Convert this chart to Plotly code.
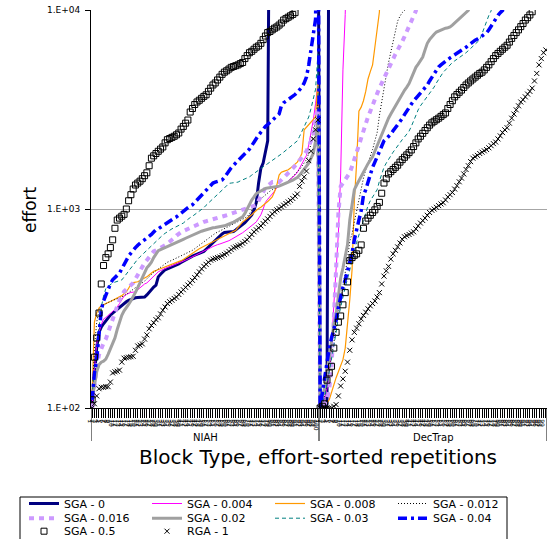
import plotly.graph_objects as go

# ---------------------------------------------------------------- data
OFF = 100000  # value above the 1.E+04 ceiling (clipped in the reference)

GROUPS = ["NIAH", "DecTrap"]
REP_LABELS = [str(r) for r in range(1, 101)]
Y_TICK_VALUES = [100, 1000, 10000]
Y_TICK_LABELS = ["1.E+02", "1.E+03", "1.E+04"]

SERIES_NAMES = ["SGA - 0", "SGA - 0.004", "SGA - 0.008", "SGA - 0.012", "SGA - 0.016",
                "SGA - 0.02", "SGA - 0.03", "SGA - 0.04", "SGA - 0.5", "RGA - 1"]

sga_0_niah = [105, 150, 200, 240, 255, 265, 275, 285, 293, 300,
              307, 314, 321, 328, 335, 342, 348, 352, 356, 358,
              359, 360, 360, 361, 370, 382, 393, 405, 414, 456,
              470, 485, 495, 500, 505, 510, 516, 522, 530, 538,
              547, 556, 565, 574, 580, 586, 592, 598, 605, 612,
              628, 645, 660, 676, 693, 712, 731, 750, 762, 764,
              766, 767, 770, 785, 800, 815, 830, 853, 880, 905,
              935, 990, 1080, 1350, 1600, 1700, 1950, 2200] + [OFF] * 22
sga_0_dectrap = [100, 100, 102, 105] + [OFF] * 96

sga_0004_niah = [100, 160, 210, 240, 262, 280, 285, 290, 298, 306,
                 314, 322, 335, 352, 365, 372, 378, 381, 382, 384,
                 393, 402, 412, 420, 425, 437, 449, 461, 473, 483,
                 490, 497, 503, 508, 513, 518, 523, 528, 533, 539,
                 546, 553, 560, 567, 575, 583, 591, 599, 607, 615,
                 622, 630, 639, 648, 657, 662, 667, 673, 679, 684,
                 693, 703, 713, 722, 735, 748, 760, 775, 790, 805,
                 824, 843, 862, 895, 935, 1000, 1080, 1120, 1150, 1190,
                 1230, 1280, 1295, 1310, 1330, 1345, 1380, 1410, 1445, 1480,
                 1530, 1600, 1680, 1760, 1860, 2100, 2400, 2800, 3400, 4200]
sga_0004_dectrap = [100, 104, 112, 125, 150, 200, 330, 480, 750, 1500,
                    5000, 9500] + [OFF] * 88

sga_0008_niah = [120, 270, 300, 318, 326, 331, 335, 339, 343, 348,
                 352, 356, 360, 367, 375, 383, 400, 418, 427, 429,
                 431, 437, 443, 450, 456, 466, 476, 486, 491, 496,
                 501, 506, 511, 515, 520, 525, 530, 535, 542, 550,
                 558, 568, 580, 592, 604, 616, 623, 632, 641, 650,
                 659, 668, 677, 686, 697, 706, 715, 724, 733, 742,
                 752, 762, 772, 782, 808, 836, 862, 878, 895, 913,
                 935, 960, 985, 1005, 1020, 1040, 1065, 1090, 1120, 1150,
                 1220, 1320, 1480, 1530, 1545, 1560, 1575, 1605, 1640, 1670,
                 1720, 1800, 1900, 2500, 2580, 2650, 2720, 2800, 2900, 4500]
sga_0008_dectrap = [100, 101, 103, 106, 110, 120, 132, 142, 152, 162,
                    175, 200, 260, 350, 495, 1100, 1700, 3100, 3250, 3500,
                    3900, 4500, 4900, 5300, 6500, 8000, 9800] + [OFF] * 73

sga_0012_niah = [100, 200, 270, 310, 326, 331, 335, 339, 343, 348,
                 351, 354, 357, 360, 366, 373, 380, 387, 393, 400,
                 408, 416, 424, 434, 446, 458, 471, 480, 490, 500,
                 510, 520, 530, 540, 546, 553, 560, 567, 573, 577,
                 585, 593, 601, 610, 620, 632, 645, 658, 672, 686,
                 700, 713, 726, 740, 755, 765, 775, 785, 795, 805,
                 815, 826, 837, 848, 860, 873, 887, 901, 915, 950,
                 995, 1030, 1060, 1100, 1125, 1150, 1180, 1210, 1230, 1250,
                 1270, 1290, 1305, 1320, 1335, 1350, 1380, 1415, 1450, 1490,
                 1530, 1580, 1640, 1700, 1770, 1900, 2100, 2400, 2800, 3500]
sga_0012_dectrap = [100, 105, 115, 130, 155, 180, 210, 250, 300, 350,
                    400, 470, 560, 690, 750, 860, 980, 1120, 1280, 1430,
                    1580, 1700, 1850, 1990, 2200, 2420, 2950, 3500, 4100, 4700,
                    5450, 6200, 7000, 7800, 8800, 9300, 9700, 9950] + [OFF] * 62

sga_0016_niah = [100, 130, 160, 185, 200, 212, 222, 240, 262, 287,
                 305, 325, 348, 370, 385, 395, 405, 415, 425, 445,
                 470, 495, 512, 535, 556, 575, 595, 612, 620, 628,
                 637, 645, 658, 671, 684, 697, 715, 735, 755, 765,
                 775, 785, 795, 805, 815, 826, 838, 850, 856, 862,
                 868, 874, 880, 884, 891, 898, 905, 912, 920, 929,
                 938, 947, 956, 965, 975, 984, 993, 1002, 1010, 1019,
                 1028, 1037, 1047, 1100, 1160, 1220, 1280, 1310, 1340, 1365,
                 1365, 1365, 1366, 1400, 1435, 1470, 1505, 1550, 1600, 1650,
                 1700, 1760, 1820, 1875, 1950, 2050, 2200, 2400, 2700, 3200]
sga_0016_dectrap = [100, 102, 105, 110, 125, 160, 260, 500, 950, 1300,
                    1350, 1400, 1460, 1520, 1640, 1780, 1930, 2080, 2300, 2500,
                    2750, 2900, 3100, 3350, 3550, 3800, 4050, 4300, 4550, 4850,
                    5100, 5400, 5700, 6000, 6300, 6550, 6950, 7350, 7800, 8300,
                    8800, 9300, 9900] + [OFF] * 57

sga_002_niah = [110, 130, 152, 165, 170, 172, 176, 186, 197, 210,
                225, 248, 272, 292, 308, 318, 332, 346, 361, 381,
                403, 425, 450, 478, 506, 522, 540, 570, 595, 617,
                625, 632, 640, 648, 655, 662, 669, 676, 685, 695,
                704, 713, 722, 730, 739, 748, 757, 766, 773, 780,
                787, 794, 800, 805, 807, 810, 812, 815, 823, 831,
                839, 847, 860, 872, 886, 900, 914, 950, 1000, 1060,
                1110, 1150, 1195, 1215, 1235, 1255, 1270, 1275, 1280, 1283,
                1287, 1290, 1303, 1318, 1333, 1348, 1358, 1375, 1395, 1420,
                1440, 1480, 1530, 1580, 1630, 1700, 1800, 1900, 2200, 2800]
sga_002_dectrap = [100, 112, 127, 150, 180, 215, 262, 295, 360, 450,
                   505, 580, 660, 880, 1050, 1250, 1320, 1390, 1470, 1550,
                   1620, 1690, 1760, 1830, 1950, 2080, 2200, 2350, 2520, 2700,
                   2860, 3000, 3150, 3300, 3450, 3600, 3800, 3950, 4100, 4270,
                   4550, 4850, 5150, 5350, 5600, 5800, 6300, 6800, 7100, 7350,
                   7550, 7750, 7850, 7950, 8000, 8100, 8150, 8220, 8400, 8600,
                   8800, 9000, 9200, 9450, 9700, 9950] + [OFF] * 34

sga_003_niah = [115, 160, 195, 260, 320, 365, 398, 408, 417, 425,
                429, 433, 437, 440, 455, 472, 489, 507, 525, 543,
                560, 575, 590, 606, 623, 640, 656, 673, 690, 707,
                726, 740, 755, 770, 785, 795, 805, 815, 826, 838,
                850, 870, 890, 905, 920, 938, 955, 975, 995, 1015,
                1045, 1070, 1095, 1125, 1155, 1185, 1210, 1240, 1275, 1310,
                1345, 1350, 1355, 1360, 1365, 1385, 1400, 1420, 1440, 1450,
                1480, 1510, 1545, 1575, 1600, 1630, 1660, 1690, 1720, 1750,
                1780, 1810, 1850, 1890, 1930, 1970, 2010, 2050, 2100, 2150,
                2200, 2320, 2450, 2580, 2730, 2900, 3200, 3550, 4000, 6000]
sga_003_dectrap = [100, 105, 115, 130, 150, 175, 205, 240, 285, 325,
                   365, 405, 445, 495, 560, 625, 680, 740, 810, 880,
                   960, 1040, 1100, 1150, 1200, 1250, 1380, 1500, 1620, 1700,
                   1780, 1860, 1930, 2000, 2080, 2150, 2230, 2300, 2380, 2460,
                   2600, 2780, 2950, 3150, 3300, 3420, 3540, 3650, 3780, 3900,
                   4100, 4300, 4500, 4700, 4870, 5000, 5150, 5300, 5450, 5550,
                   5650, 5750, 5850, 6000, 6100, 6250, 6400, 6530, 6700, 6900,
                   7080, 7600, 8200, 8900, 9400, 9900] + [OFF] * 24

sga_004_niah = [110, 150, 175, 230, 310, 345, 370, 395, 420, 441,
                452, 465, 476, 500, 528, 556, 580, 600, 623, 640,
                658, 676, 688, 700, 713, 725, 745, 766, 787, 795,
                810, 825, 845, 860, 873, 888, 900, 913, 935, 955,
                975, 995, 1015, 1035, 1050, 1080, 1110, 1145, 1180, 1215,
                1250, 1285, 1320, 1350, 1365, 1380, 1390, 1400, 1440, 1500,
                1555, 1610, 1660, 1705, 1750, 1790, 1840, 1890, 1930, 2000,
                2080, 2180, 2260, 2350, 2430, 2520, 2600, 2660, 2720, 2790,
                2860, 2930, 3000, 3300, 3420, 3480, 3540, 3600, 3660, 3760,
                3860, 3970, 4100, 4300, 4600, 5300, 6200, 7400, 9000, OFF]
sga_004_dectrap = [100, 120, 145, 168, 200, 225, 245, 275, 320, 370,
                   405, 441, 490, 545, 600, 700, 800, 880, 980, 1170,
                   1250, 1370, 1500, 1620, 1720, 1830, 1950, 2100, 2200, 2250,
                   2300, 2380, 2470, 2560, 2650, 2720, 2850, 2980, 3110, 3250,
                   3400, 3500, 3600, 3710, 3820, 3930, 4050, 4200, 4400, 4600,
                   4800, 5000, 5180, 5300, 5420, 5540, 5650, 5750, 5850, 5950,
                   6050, 6150, 6250, 6350, 6500, 6650, 6800, 6950, 7050, 7150,
                   7250, 7400, 7550, 7680, 7950, 8300, 8700, 9100, 9400, 9700,
                   9950] + [OFF] * 19

sga_05_niah = [110, 180, 225, 300, 420, 520, 570, 595, 640, 700,
               800, 880, 900, 920, 940, 1000, 1100, 1180, 1260, 1320,
               1350, 1380, 1420, 1470, 1520, 1650, 1800, 1850, 1900, 1950,
               2000, 2050, 2150, 2230, 2260, 2290, 2320, 2360, 2410, 2520,
               2600, 2700, 2800, 3070, 3200, 3350, 3450, 3520, 3600, 3680,
               3750, 3900, 4050, 4200, 4300, 4450, 4600, 4750, 4870, 4950,
               5050, 5150, 5200, 5250, 5300, 5380, 5450, 5700, 5900, 6100,
               6200, 6350, 6500, 6600, 6800, 7100, 7400, 7700, 7800, 7950,
               8100, 8220, 8400, 8600, 8900, 9050, 9200, 9350, 9500, 9700] + [OFF] * 10
sga_05_dectrap = [100, 102, 105, 138, 150, 162, 200, 240, 270, 290,
                  330, 380, 430, 550, 570, 585, 595, 620, 660, 800,
                  870, 900, 930, 960, 990, 1030, 1080, 1200, 1350, 1420,
                  1500, 1540, 1580, 1620, 1660, 1720, 1770, 1820, 1870, 1920,
                  1980, 2060, 2150, 2250, 2320, 2400, 2480, 2560, 2640, 2710,
                  2760, 2810, 2860, 2920, 2980, 3040, 3200, 3350, 3500, 3660,
                  3760, 3860, 3960, 4080, 4200, 4300, 4400, 4500, 4600, 4700,
                  4800, 4870, 5000, 5150, 5300, 5500, 5700, 5900, 6050, 6200,
                  6350, 6500, 6650, 6900, 7200, 7450, 7700, 7950, 8250, 8550,
                  8900, 9150, 9440, 9800] + [OFF] * 6

rga_1_niah = [100, 105, 115, 125, 127, 127, 128, 128, 135, 150,
              152, 153, 155, 170, 178, 179, 180, 181, 182, 195,
              205, 207, 210, 222, 233, 250, 260, 268, 278, 284,
              297, 310, 322, 335, 342, 348, 355, 361, 372, 383,
              393, 404, 415, 425, 438, 452, 467, 483, 500, 515,
              527, 540, 553, 560, 565, 570, 574, 583, 591, 600,
              612, 625, 638, 645, 653, 660, 673, 686, 700, 722,
              745, 768, 786, 804, 822, 845, 868, 892, 918, 945,
              968, 990, 1005, 1025, 1045, 1065, 1085, 1105, 1130, 1160,
              1190, 1300, 1380, 1450, 1550, 1750, 1950, 2250, 2500, 2800]
rga_1_dectrap = [100, 100, 100, 100, 100, 100, 102, 104, 115, 129,
                 140, 153, 170, 195, 220, 240, 252, 265, 280, 292,
                 303, 315, 326, 335, 345, 361, 380, 420, 460, 489,
                 515, 560, 595, 620, 645, 675, 705, 725, 735, 745,
                 757, 768, 795, 822, 850, 875, 900, 930, 960, 985,
                 1000, 1020, 1040, 1060, 1075, 1110, 1150, 1180, 1210, 1260,
                 1310, 1370, 1430, 1500, 1580, 1650, 1730, 1800, 1830, 1860,
                 1900, 1930, 1960, 1990, 2030, 2080, 2130, 2170, 2250, 2330,
                 2420, 2500, 2560, 2700, 2860, 3000, 3150, 3300, 3450, 3540,
                 3660, 3780, 3900, 4050, 4400, 4800, 5300, 5700, 6100, 6300]

SERIES_VALUES = [
    (sga_0_niah, sga_0_dectrap),
    (sga_0004_niah, sga_0004_dectrap),
    (sga_0008_niah, sga_0008_dectrap),
    (sga_0012_niah, sga_0012_dectrap),
    (sga_0016_niah, sga_0016_dectrap),
    (sga_002_niah, sga_002_dectrap),
    (sga_003_niah, sga_003_dectrap),
    (sga_004_niah, sga_004_dectrap),
    (sga_05_niah, sga_05_dectrap),
    (rga_1_niah, rga_1_dectrap),
]
for a, b in SERIES_VALUES:
    assert len(a) == len(REP_LABELS) and len(b) == len(REP_LABELS), (len(a), len(b))

# ---------------------------------------------------------------- styles
STYLES = {
    "SGA - 0":     dict(mode="lines", line=dict(color="#000080", width=3)),
    "SGA - 0.004": dict(mode="lines", line=dict(color="#FF00FF", width=1)),
    "SGA - 0.008": dict(mode="lines", line=dict(color="#FF9900", width=1.2)),
    "SGA - 0.012": dict(mode="lines", line=dict(color="#000000", width=1, dash="1px,2px")),
    "SGA - 0.016": dict(mode="lines", line=dict(color="#CC99FF", width=4, dash="5px,5px")),
    "SGA - 0.02":  dict(mode="lines", line=dict(color="#A0A0A0", width=3)),
    "SGA - 0.03":  dict(mode="lines", line=dict(color="#008080", width=1, dash="4px,3px")),
    "SGA - 0.04":  dict(mode="lines", line=dict(color="#0000FF", width=3.5, dash="9px,4px,3px,4px")),
    "SGA - 0.5":   dict(mode="markers", marker=dict(symbol="square-open", size=6, color="#000000",
                                                    line=dict(width=1, color="#000000"))),
    "RGA - 1":     dict(mode="markers", marker=dict(symbol="x-thin", size=5, color="#000000",
                                                    line=dict(width=1, color="#000000"))),
}
LEGEND_ROW = ["legend"] * 4 + ["legend2"] * 4 + ["legend3"] * 2

W, H = 547, 539
ML, MR, MT, MB = 91, 0, 10, 131
PW, PH = W - ML - MR, H - MT - MB


def px_x(p):
    return (p - ML) / PW


def px_y(p):
    return (H - MB - p) / PH


FONT = "DejaVu Sans"
n_rep = len(REP_LABELS)
xs = list(range(len(GROUPS) * n_rep))

fig = go.Figure()
for name, (niah, dec), leg in zip(SERIES_NAMES, SERIES_VALUES, LEGEND_ROW):
    st = STYLES[name]
    fig.add_trace(go.Scatter(x=xs, y=niah + dec, name=name, legend=leg,
                             hoverinfo="skip", **st))

legend_common = dict(orientation="h", xanchor="left", yanchor="top",
                     bgcolor="rgba(0,0,0,0)", borderwidth=0,
                     font=dict(family=FONT, size=11, color="#000000"),
                     entrywidth=78, entrywidthmode="pixels", traceorder="normal")

fig.update_layout(
    width=W, height=H,
    margin=dict(l=ML, r=MR, t=MT, b=MB, autoexpand=False),
    paper_bgcolor="white", plot_bgcolor="white",
    font=dict(family=FONT, color="#000000"),
    showlegend=True,
    legend=dict(**legend_common, x=px_x(24), y=px_y(489)),
    legend2=dict(**legend_common, x=px_x(24), y=px_y(503.7)),
    legend3=dict(**legend_common, x=px_x(24), y=px_y(516.7)),
    xaxis=dict(
        range=[-0.5, len(xs) - 0.5], showgrid=False, zeroline=False,
        showline=True, linecolor="#000000", linewidth=1,
        tickmode="array", tickvals=xs, ticktext=REP_LABELS * len(GROUPS),
        tickangle=90, tickfont=dict(size=6, color="#000000", family=FONT),
        ticks="outside", ticklen=9, tickwidth=1, tickcolor="#000000",
        ticklabelshift=-2,
        automargin=False,
    ),
    yaxis=dict(
        type="log", range=[2, 4], showgrid=True, gridcolor="#A6A6A6", gridwidth=1,
        zeroline=False, showline=True, linecolor="#000000", linewidth=1,
        tickmode="array", tickvals=Y_TICK_VALUES, ticktext=Y_TICK_LABELS,
        tickfont=dict(size=9, color="#000000", family=FONT),
        ticks="outside", ticklen=5, tickcolor="#000000", ticklabelstandoff=3,
        automargin=False,
    ),
)

# group separators and labels
for k in range(len(GROUPS) + 1):
    fig.add_shape(type="line", xref="x", yref="paper",
                  x0=k * n_rep - 0.5, x1=k * n_rep - 0.5, y0=0, y1=px_y(441),
                  line=dict(color="#000000", width=1))
for k, g in enumerate(GROUPS):
    fig.add_annotation(x=k * n_rep + (n_rep - 1) / 2, y=px_y(437), xref="x", yref="paper",
                       text=g, showarrow=False, xanchor="center", yanchor="middle",
                       font=dict(family=FONT, size=10, color="#000000"))

fig.add_annotation(x=px_x(318), y=px_y(457), xref="paper", yref="paper",
                   text="Block Type, effort-sorted repetitions", showarrow=False,
                   xanchor="center", yanchor="middle",
                   font=dict(family=FONT, size=20, color="#000000"))
fig.add_annotation(x=px_x(30), y=px_y(210), xref="paper", yref="paper",
                   text="effort", showarrow=False, textangle=-90,
                   xanchor="center", yanchor="middle",
                   font=dict(family=FONT, size=17, color="#000000"))

# legend frame
fig.add_shape(type="rect", xref="paper", yref="paper",
              x0=px_x(20), x1=px_x(507), y0=px_y(497), y1=px_y(560),
              line=dict(color="#000000", width=1), fillcolor="rgba(0,0,0,0)")

fig.write_html("out.html", config={"displayModeBar": False},
               post_script="document.body.style.margin='0px';")
